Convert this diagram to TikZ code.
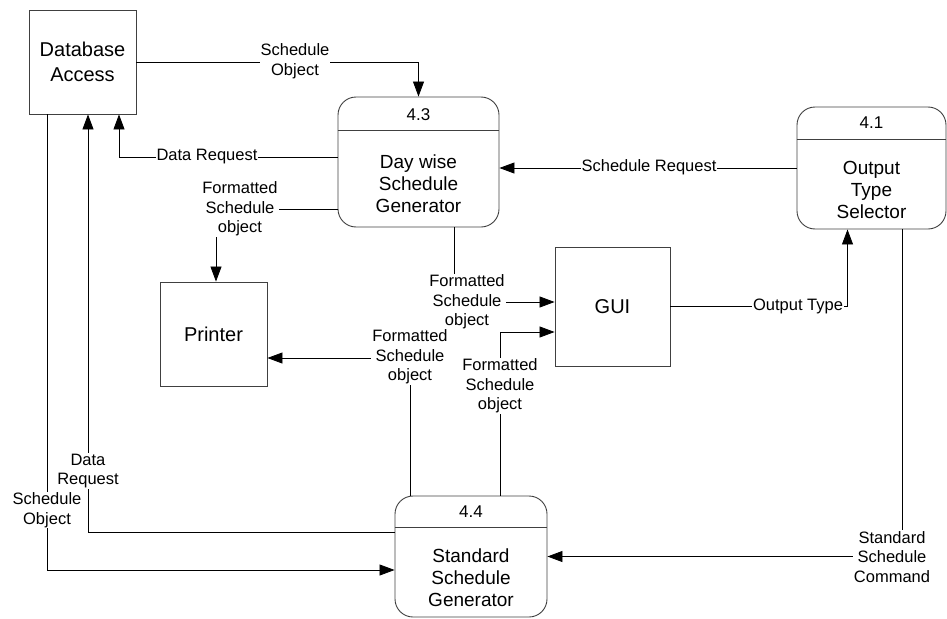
\documentclass[tikz,border=0pt]{standalone}
\usepackage{fontspec}
\setmainfont{Liberation Sans}
\usetikzlibrary{arrows.meta}
\begin{document}
\begin{tikzpicture}[x=1pt,y=-1pt,
 box/.style={draw=black!75, line width=0.9pt, rectangle, inner sep=0pt},
 proc/.style={draw=black!75, line width=0.9pt, rounded corners=18pt, rectangle, inner sep=0pt},
 divider/.style={draw=black!75, line width=0.9pt},
 arr/.style={draw=black, line width=0.8pt, -{Triangle[length=15pt,width=11pt]}},
 lbl/.style={fill=white, inner sep=1pt, align=center, font=\fontsize{16.5}{19.5}\selectfont},
 big/.style={align=center, font=\fontsize{20}{25}\selectfont},
 ptxt/.style={align=center, font=\fontsize{19}{22}\selectfont},
 pnum/.style={font=\fontsize{17}{20}\selectfont}]
\useasboundingbox (0,0) rectangle (947,618);

% external entities
\node[box, big, minimum width=107pt, minimum height=104pt] (db) at (82.5,62) {Database\\Access};
\node[box, big, minimum width=107pt, minimum height=104pt] (printer) at (213.5,334) {Printer};
\node[box, big, minimum width=115pt, minimum height=119pt] (gui) at (612.5,306.5) {GUI};

% processes
\node[proc, minimum width=161pt, minimum height=130pt] (p43) at (418.5,162) {};
\draw[divider] ([yshift=-34pt]p43.north west) -- ([yshift=-34pt]p43.north east);
\node[pnum] (n43) at (418.5,115) {4.3};
\node[ptxt] (t43) at (418.5,184) {Day wise\\Schedule\\Generator};

\node[proc, minimum width=149pt, minimum height=122pt] (p41) at (871.5,168) {};
\draw[divider] ([yshift=-33pt]p41.north west) -- ([yshift=-33pt]p41.north east);
\node[pnum] (n41) at (871.5,123) {4.1};
\node[ptxt] (t41) at (871.5,190) {Output\\Type\\Selector};

\node[proc, minimum width=152pt, minimum height=121pt] (p44) at (471,556.5) {};
\draw[divider] ([yshift=-32pt]p44.north west) -- ([yshift=-32pt]p44.north east);
\node[pnum] (n44) at (471,512) {4.4};
\node[ptxt] (t44) at (471,578) {Standard\\Schedule\\Generator};

% connectors
\draw[arr] (db.east) -| (p43.north);
\draw[arr] ([yshift=5pt]p43.west) -| ([xshift=36.5pt]db.south);
\draw[arr] ([yshift=-47pt]p43.west) -| ([xshift=2.5pt]printer.north);
\draw[arr] (p41.west) -- (p41.west -| p43.east);
\draw[arr] ([xshift=35.5pt]p43.south) |- ([yshift=4.5pt]gui.west);
\draw[arr] (gui.east) -| ([xshift=-24pt]p41.south);
\draw[arr] ([xshift=-61pt]p44.north) |- ([yshift=-24pt]printer.east);
\draw[arr] ([xshift=29pt]p44.north) |- ([yshift=-25.5pt]gui.west);
\draw[arr] ([yshift=24.5pt]p44.west) -| ([xshift=5.5pt]db.south);
\draw[arr] ([xshift=-35.5pt]db.south) |- ([yshift=-13.5pt]p44.west);
\draw[arr] ([xshift=30.5pt]p41.south) |- (p44.east);

% labels
\node[lbl] (l1) at (295,61) {Schedule\\Object};
\node[lbl] (l2) at (207,157) {Data Request};
\node[lbl] (l3) at (240,209) {Formatted\\Schedule\\object};
\node[lbl] (l4) at (649,167) {Schedule Request};
\node[lbl] (l5) at (467,302) {Formatted\\Schedule\\object};
\node[lbl] (l6) at (798,306) {Output Type};
\node[lbl] (l7) at (410,357) {Formatted\\Schedule\\object};
\node[lbl] (l8) at (500,386) {Formatted\\Schedule\\object};
\node[lbl] (l9) at (88,471) {Data\\Request};
\node[lbl] (l10) at (47,510) {Schedule\\Object};
\node[lbl] (l11) at (892,557) {Standard\\Schedule\\Command};
\end{tikzpicture}
\end{document}
